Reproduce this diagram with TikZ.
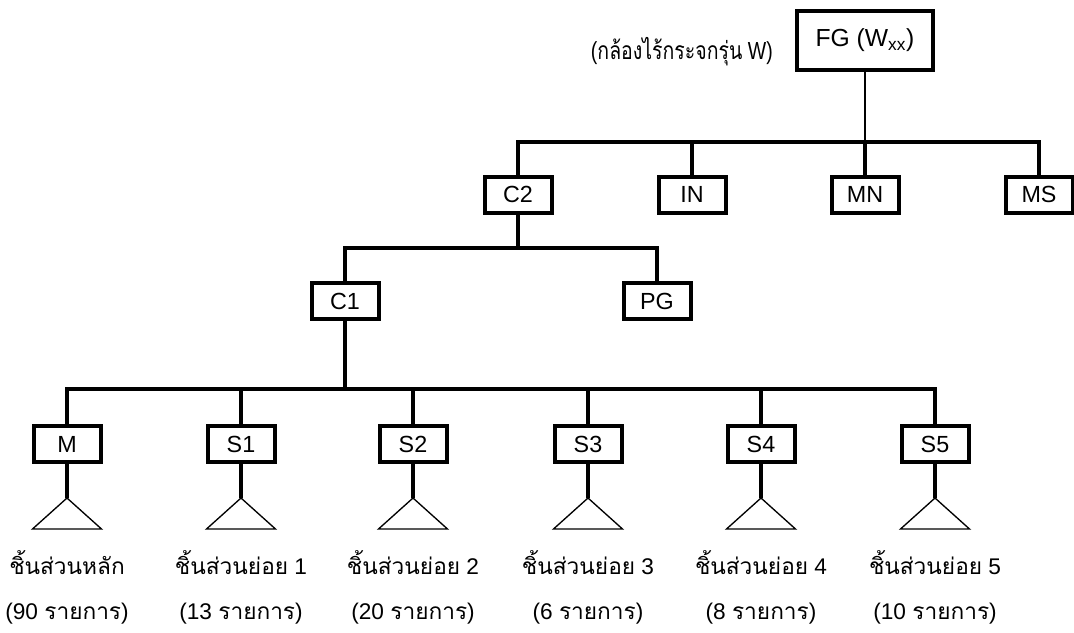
\documentclass[tikz,border=0pt]{standalone}
\usepackage{fontspec}
\setmainfont{Liberation Sans}
\newfontfamily\thai[Script=Thai]{Loma}
\begin{document}
\begin{tikzpicture}[x=0.75pt,y=-0.75pt,
  box/.style={draw=black,line width=3pt,fill=white,minimum width=50.25pt,minimum height=27pt,inner sep=0pt,font=\fontsize{17.5}{20}\selectfont},
  bigbox/.style={box,minimum width=102pt,minimum height=44.25pt,font=\fontsize{18.5}{21}\selectfont},
  bus/.style={line width=3pt},
  thinline/.style={line width=0.8pt},
  tri/.style={line width=1pt,line join=miter},
  lbl/.style={anchor=base,inner sep=0pt,font=\fontsize{17}{20}\selectfont}]
\useasboundingbox (0,0) rectangle (1074,632);
% nodes
\node[bigbox] (FG) at (865,40.5) {FG (W\textsubscript{xx})};
\node[lbl,anchor=base east,font=\fontsize{18.5}{21}\selectfont] (cap) at (773,59) {\scalebox{0.79}[1]{({\thai กล้องไร้กระจกรุ่น} W)}};
\node[box] (C2) at (518,194.5) {C2};
\node[box] (IN) at (692,194.5) {IN};
\node[box] (MN) at (865,194.5) {MN};
\node[box] (MS) at (1039,194.5) {MS};
\node[box] (C1) at (345,301) {C1};
\node[box] (PG) at (657,301) {PG};
\node[box] (M) at (67,444) {M};
\node[box] (S1) at (241,444) {S1};
\node[box] (S2) at (413,444) {S2};
\node[box] (S3) at (588,444) {S3};
\node[box] (S4) at (761,444) {S4};
\node[box] (S5) at (935,444) {S5};
% bus coordinates
\coordinate (b1) at (865,142);
\coordinate (b2) at (518,248);
\coordinate (b3) at (345,389);
% connectors level 1
\draw[thinline] (FG.south) -- (b1);
\draw[bus] (C2.north) |- (b1) -| (MS.north);
\draw[bus] (IN.north) -- (IN.north |- b1);
\draw[bus] (MN.north) -- (b1);
% level 2
\draw[bus] (C2.south) -- (b2);
\draw[bus] (C1.north) |- (b2) -| (PG.north);
% level 3
\draw[bus] (C1.south) -- (b3);
\draw[bus] (M.north) |- (b3) -| (S5.north);
\foreach \n in {S1,S2,S3,S4}{
  \draw[bus] (\n.north) -- (\n.north |- b3);
}
% triangles and labels
\foreach \n/\a/\b in {M/{\thai ชิ้นส่วนหลัก}/{(90 {\thai รายการ})},
                      S1/{{\thai ชิ้นส่วนย่อย} 1}/{(13 {\thai รายการ})},
                      S2/{{\thai ชิ้นส่วนย่อย} 2}/{(20 {\thai รายการ})},
                      S3/{{\thai ชิ้นส่วนย่อย} 3}/{(6 {\thai รายการ})},
                      S4/{{\thai ชิ้นส่วนย่อย} 4}/{(8 {\thai รายการ})},
                      S5/{{\thai ชิ้นส่วนย่อย} 5}/{(10 {\thai รายการ})}}{
  \coordinate (t\n) at ([yshift=-25.5pt]\n.south);
  \draw[bus] (\n.south) -- (t\n);
  \draw[tri] (t\n) -- ++(-34.5,31) -- ++(69,0) -- cycle;
  \node[lbl] (l\n) at ([yshift=-82.5pt]\n.south) {\a};
  \node[lbl] (m\n) at ([yshift=-116.25pt]\n.south) {\b};
}
\end{tikzpicture}
\end{document}
